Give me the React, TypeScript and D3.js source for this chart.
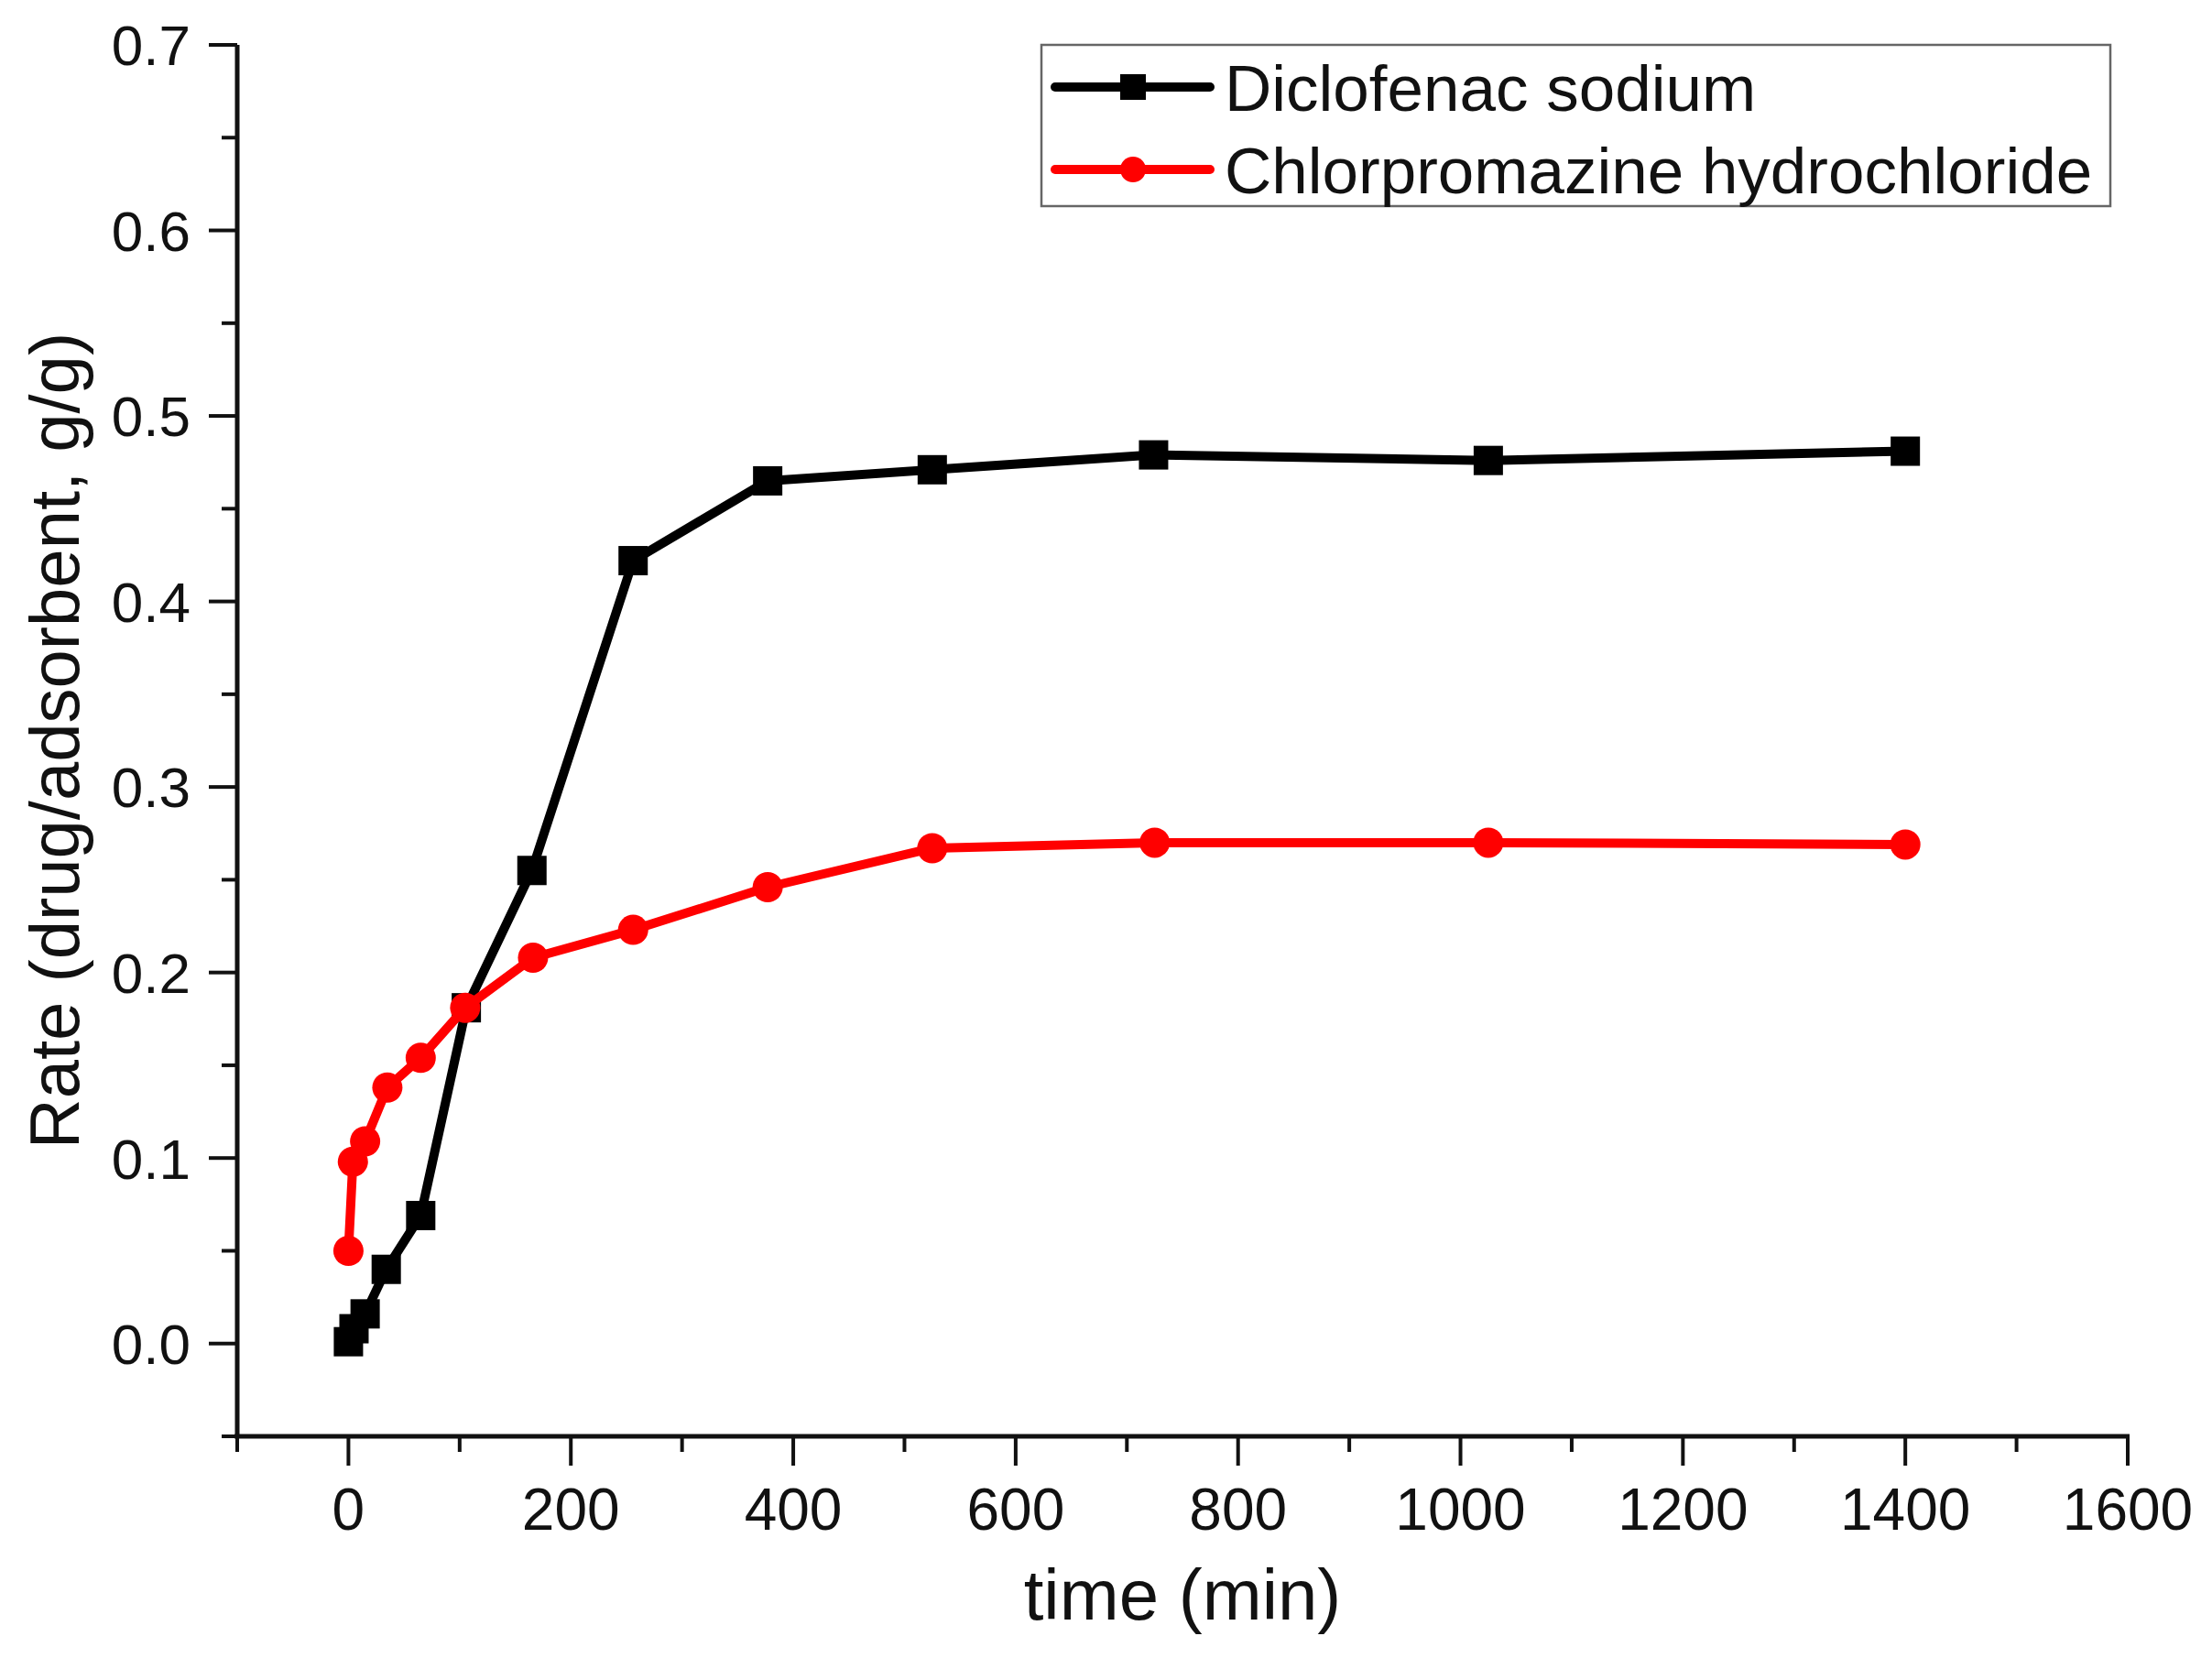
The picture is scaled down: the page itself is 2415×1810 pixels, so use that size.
import React, { useEffect, useRef } from 'react';
import * as d3 from 'd3';

// sampling times (min) and uptake for each drug
const diclofenacTime = [0, 5, 15, 34, 65, 106, 165, 256, 377, 525, 724, 1025, 1400];
const diclofenacRate = [0.001, 0.008, 0.016, 0.040, 0.069, 0.181, 0.255, 0.422, 0.465, 0.471, 0.479, 0.476, 0.481];

const chlorproTime = [0, 4, 15, 35, 65, 105, 166, 256, 377, 525, 725, 1025, 1400];
const chlorproRate = [0.050, 0.098, 0.109, 0.138, 0.154, 0.181, 0.208, 0.223, 0.246, 0.267, 0.270, 0.270, 0.269];

const seriesNames = ['Diclofenac sodium', 'Chlorpromazine hydrochloride'];
const xTicks = [0, 200, 400, 600, 800, 1000, 1200, 1400, 1600];
const yTicks = [0.0, 0.1, 0.2, 0.3, 0.4, 0.5, 0.6, 0.7];

const FONT = 'Arial, "Liberation Sans", Helvetica, sans-serif';

const App = () => {
  const svgRef = useRef<SVGSVGElement>(null);

  useEffect(() => {
    const width = 2415;
    const height = 1810;
    const margin = { top: 49, right: 92, bottom: 242, left: 259 };
    const innerW = width - margin.left - margin.right;
    const innerH = height - margin.top - margin.bottom;

    const root = d3.select(svgRef.current);
    root.selectAll('*').remove();
    const svg = root.append('g').attr('transform', `translate(${margin.left},${margin.top})`);

    const x = d3.scaleLinear().domain([-100, 1600]).range([0, innerW]);
    const y = d3.scaleLinear().domain([-0.05, 0.7]).range([innerH, 0]);

    // X axis: major ticks every 200, minor halfway
    const xMinor = d3.range(-100, 1601, 100).filter(v => !xTicks.includes(v));
    const xAxis = svg.append('g').attr('transform', `translate(0,${innerH})`);
    xAxis.append('line')
      .attr('x1', -3).attr('x2', innerW + 2)
      .attr('stroke', '#111').attr('stroke-width', 5);
    xAxis.selectAll('.major').data(xTicks).enter().append('line')
      .attr('x1', d => x(d)).attr('x2', d => x(d))
      .attr('y1', 0).attr('y2', 32)
      .attr('stroke', '#111').attr('stroke-width', 4);
    xAxis.selectAll('.minor').data(xMinor).enter().append('line')
      .attr('x1', d => x(d)).attr('x2', d => x(d))
      .attr('y1', 0).attr('y2', 17)
      .attr('stroke', '#111').attr('stroke-width', 4);
    xAxis.selectAll('text').data(xTicks).enter().append('text')
      .attr('x', d => x(d)).attr('y', 102)
      .attr('text-anchor', 'middle')
      .style('font-family', FONT).style('font-size', '64px').attr('fill', '#111')
      .text(d => d);

    // Y axis: major ticks every 0.1, minor halfway
    const yMinor = d3.range(-0.05, 0.7, 0.1).map(v => +v.toFixed(2));
    const yAxis = svg.append('g');
    yAxis.append('line')
      .attr('y1', 0).attr('y2', innerH + 2)
      .attr('stroke', '#111').attr('stroke-width', 5);
    yAxis.selectAll('.major').data(yTicks).enter().append('line')
      .attr('y1', d => y(d)).attr('y2', d => y(d))
      .attr('x1', 0).attr('x2', -31)
      .attr('stroke', '#111').attr('stroke-width', 4);
    yAxis.selectAll('.minor').data(yMinor).enter().append('line')
      .attr('y1', d => y(d)).attr('y2', d => y(d))
      .attr('x1', 0).attr('x2', -17)
      .attr('stroke', '#111').attr('stroke-width', 4);
    yAxis.selectAll('text').data(yTicks).enter().append('text')
      .attr('x', -51).attr('y', d => y(d)).attr('dy', '0.36em')
      .attr('text-anchor', 'end')
      .style('font-family', FONT).style('font-size', '62px').attr('fill', '#111')
      .text(d => d3.format('.1f')(d));

    const line = d3.line<[number, number]>()
      .x(d => x(d[0]))
      .y(d => y(d[1]));

    const diclo: [number, number][] = diclofenacTime.map((t, i) => [t, diclofenacRate[i]]);
    const chlor: [number, number][] = chlorproTime.map((t, i) => [t, chlorproRate[i]]);

    // black series
    svg.append('path').datum(diclo)
      .attr('fill', 'none').attr('stroke', '#000').attr('stroke-width', 10)
      .attr('stroke-linejoin', 'round')
      .attr('d', line);
    svg.selectAll('.sq').data(diclo).enter().append('rect')
      .attr('x', d => x(d[0]) - 16).attr('y', d => y(d[1]) - 16)
      .attr('width', 32).attr('height', 32)
      .attr('fill', '#000');

    // red series
    svg.append('path').datum(chlor)
      .attr('fill', 'none').attr('stroke', '#ff0000').attr('stroke-width', 10)
      .attr('stroke-linejoin', 'round')
      .attr('d', line);
    svg.selectAll('.dot').data(chlor).enter().append('circle')
      .attr('cx', d => x(d[0])).attr('cy', d => y(d[1]))
      .attr('r', 16.5)
      .attr('fill', '#ff0000');

    // axis titles
    root.append('text')
      .attr('x', margin.left + innerW / 2).attr('y', 1768)
      .attr('text-anchor', 'middle')
      .style('font-family', FONT).style('font-size', '78px').attr('fill', '#111')
      .text('time (min)');
    root.append('text')
      .attr('transform', `translate(86,${margin.top + innerH / 2}) rotate(-90)`)
      .attr('text-anchor', 'middle')
      .style('font-family', FONT).style('font-size', '76px').attr('fill', '#111')
      .text('Rate (drug/adsorbent, g/g)');

    // legend
    const lg = root.append('g');
    lg.append('rect')
      .attr('x', 1137).attr('y', 49).attr('width', 1167).attr('height', 176)
      .attr('fill', '#fff').attr('stroke', '#666').attr('stroke-width', 2.5);
    const colors = ['#000', '#ff0000'];
    seriesNames.forEach((name, i) => {
      const cy = 95 + i * 90;
      lg.append('line')
        .attr('x1', 1152).attr('x2', 1321).attr('y1', cy).attr('y2', cy)
        .attr('stroke', colors[i]).attr('stroke-width', 10).attr('stroke-linecap', 'round');
      if (i === 0) {
        lg.append('rect').attr('x', 1237 - 14).attr('y', cy - 14)
          .attr('width', 28).attr('height', 28).attr('fill', colors[i]);
      } else {
        lg.append('circle').attr('cx', 1237).attr('cy', cy).attr('r', 14).attr('fill', colors[i]);
      }
      lg.append('text')
        .attr('x', 1337).attr('y', cy).attr('dy', '0.36em')
        .style('font-family', FONT).style('font-size', '71px').attr('fill', '#111')
        .text(name);
    });
  }, []);

  return (
    <svg
      ref={svgRef}
      width={2415}
      height={1810}
      style={{ position: 'absolute', left: 0, top: 0, background: '#fff' }}
    />
  );
};

export default App;
